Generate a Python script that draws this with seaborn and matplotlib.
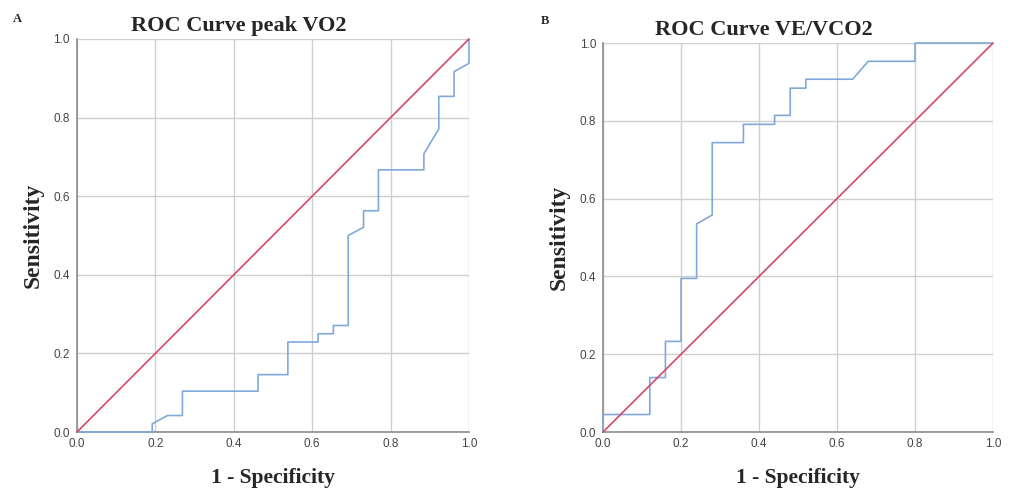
import matplotlib
matplotlib.use("Agg")
import matplotlib.pyplot as plt
import seaborn as sns
import pandas as pd

# ── ROC curve A: peak VO2 ────────────────────────────────────────
fpr_vo2 = [0.0, 0.192, 0.192, 0.231, 0.269, 0.269, 0.462, 0.462, 0.538, 0.538,
           0.615, 0.615, 0.654, 0.654, 0.692, 0.692, 0.731, 0.731, 0.769, 0.769,
           0.885, 0.885, 0.923, 0.923, 0.962, 0.962, 1.0, 1.0]
tpr_vo2 = [0.0, 0.0, 0.021, 0.042, 0.042, 0.104, 0.104, 0.146, 0.146, 0.229,
           0.229, 0.250, 0.250, 0.271, 0.271, 0.500, 0.521, 0.563, 0.563, 0.667,
           0.667, 0.708, 0.771, 0.854, 0.854, 0.917, 0.938, 1.0]

# ── ROC curve B: VE/VCO2 ─────────────────────────────────────────
fpr_ve = [0.0, 0.0, 0.12, 0.12, 0.16, 0.16, 0.20, 0.20, 0.24, 0.24, 0.28, 0.28,
          0.36, 0.36, 0.44, 0.44, 0.48, 0.48, 0.52, 0.52, 0.64, 0.68, 0.80, 0.80, 1.0]
tpr_ve = [0.0, 0.045, 0.045, 0.140, 0.140, 0.233, 0.233, 0.395, 0.395, 0.535,
          0.558, 0.744, 0.744, 0.791, 0.791, 0.814, 0.814, 0.884, 0.884, 0.907,
          0.907, 0.953, 0.953, 1.0, 1.0]

ref_line = [0.0, 1.0]
ticks = [0.0, 0.2, 0.4, 0.6, 0.8, 1.0]

CURVE = "#80a9d9"
DIAG = "#d4486a"
GRID = "#cfcfcf"
SPINE = "#8c8c8c"

sns.set_theme(style="white")
plt.rcParams["font.family"] = ["Liberation Serif", "DejaVu Serif"]

fig = plt.figure(figsize=(10.14, 4.93), dpi=100, facecolor="white")
ax_a = fig.add_axes([0.0759, 0.1237, 0.3866, 0.7972])
ax_b = fig.add_axes([0.5947, 0.1237, 0.3846, 0.7890])

panels = [
    (ax_a, fpr_vo2, tpr_vo2, "ROC Curve peak VO2", "A", 0.013, 0.962),
    (ax_b, fpr_ve, tpr_ve, "ROC Curve VE/VCO2", "B", 0.533, 0.958),
]

for ax, fpr, tpr, title, letter, lx, ly in panels:
    df = pd.DataFrame({"fpr": fpr, "tpr": tpr})
    sns.lineplot(data=df, x="fpr", y="tpr", sort=False, estimator=None,
                 color=CURVE, linewidth=1.2, ax=ax, zorder=3, clip_on=False)
    sns.lineplot(x=ref_line, y=ref_line, color=DIAG, linewidth=1.2,
                 ax=ax, zorder=4, clip_on=False)

    ax.set_xlim(0, 1)
    ax.set_ylim(0, 1)
    ax.set_xticks(ticks)
    ax.set_yticks(ticks)
    ax.set_xticklabels([f"{t:.1f}" for t in ticks], family="Liberation Sans",
                       fontsize=8.5, color="#444444")
    ax.set_yticklabels([f"{t:.1f}" for t in ticks], family="Liberation Sans",
                       fontsize=8.5, color="#444444")
    ax.tick_params(axis="x", length=0, pad=4)
    ax.tick_params(axis="y", length=0, pad=5)
    ax.grid(True, color=GRID, linewidth=1.0)
    ax.set_axisbelow(True)

    for side in ["top", "right"]:
        ax.spines[side].set_visible(False)
    for side in ["left", "bottom"]:
        ax.spines[side].set_color(SPINE)
        ax.spines[side].set_linewidth(1.2)

    ax.set_title(title, fontsize=16, fontweight="bold", x=0.413, pad=6)
    ax.set_xlabel("1 - Specificity", fontsize=15.5, fontweight="bold", labelpad=13)
    ax.set_ylabel("Sensitivity", fontsize=17, fontweight="bold", labelpad=7)

    fig.text(lx, ly, letter, fontsize=9, fontweight="bold", va="center")

fig.savefig("out.png", dpi=100, facecolor="white")
